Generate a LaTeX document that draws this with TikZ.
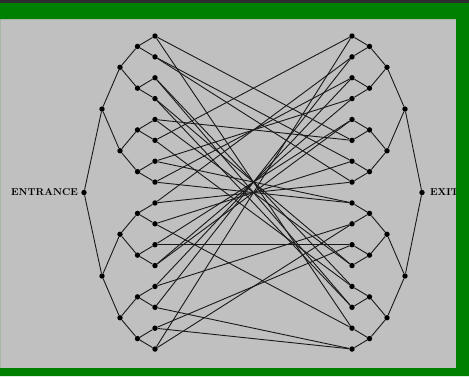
\documentclass[tikz,border=0pt]{standalone}
\usepackage{xcolor}
\definecolor{frameGreen}{RGB}{0,128,0}
\definecolor{panelGray}{RGB}{192,192,192}
\definecolor{topLine}{RGB}{45,45,45}
\usepackage{tikz}
\usetikzlibrary{positioning}

\begin{document}
\begin{tikzpicture}[
		x=1pt, y=-1pt,
		font=\fontsize{10}{12}\selectfont\bfseries,
		vertex/.style={circle, fill=black, inner sep=0pt, minimum size=5.4pt},
		edge/.style={line width=0.9pt, black!90},
		lbl/.style={inner sep=1pt}
		]
		\useasboundingbox (0,0) rectangle (469,376);
		\fill[panelGray] (0,0) rectangle (469,376);

		% the two trees, entrance side and exit side
		\foreach \d/\xl/\xr in {0/84/422, 1/102/405, 2/120/387, 3/137.5/369.5, 4/155/352} {
			\pgfmathtruncatemacro{\n}{2^\d}
			\pgfmathtruncatemacro{\w}{2^(4-\d)}
			\foreach \i in {1,...,\n} {
				\pgfmathsetmacro{\yy}{36+20.87*((\i-1)*\w+(\w-1)/2)}
				\node[vertex] (l\d-\i) at (\xl,\yy) {};
				\node[vertex] (r\d-\i) at (\xr,\yy) {};
			}
		}
		\foreach \d in {1,...,4} {
			\pgfmathtruncatemacro{\p}{\d-1}
			\pgfmathtruncatemacro{\n}{2^\d}
			\foreach \i in {1,...,\n} {
				\pgfmathtruncatemacro{\j}{(\i+1)/2}
				\draw[edge] (l\p-\j) -- (l\d-\i);
				\draw[edge] (r\p-\j) -- (r\d-\i);
			}
		}

		% random gluing of the leaves
		\foreach \a/\b in {1/6, 1/15, 2/7, 2/8, 3/13, 3/14, 4/12, 4/14,
				5/6, 5/12, 6/1, 6/13, 7/9, 7/4, 8/9, 8/3,
				9/2, 9/8, 10/7, 10/15, 11/11, 11/5, 12/4, 12/5,
				13/10, 13/3, 14/16, 14/2, 15/16, 15/11, 16/1, 16/10} {
			\draw[edge] (l4-\a) -- (r4-\b);
		}

		\node[lbl, left=2pt of l0-1]  (entrance) {ENTRANCE};
		\node[lbl, right=4pt of r0-1] (exit)     {EXIT};

		% frame
		\fill[frameGreen, even odd rule] (0,0) rectangle (469,376) (0,19) rectangle (456,368);
		\fill[topLine] (0,0) rectangle (469,2.5);
	\end{tikzpicture}
\end{document}
